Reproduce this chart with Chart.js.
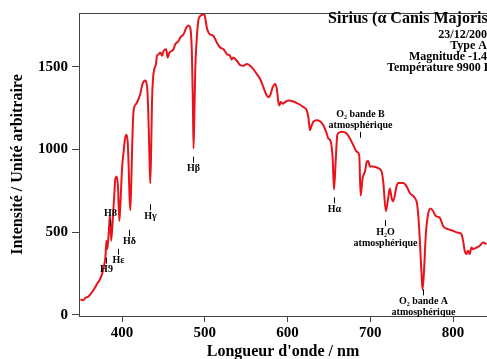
<!DOCTYPE html>
<html>
<head>
<meta charset="utf-8">
<script src="https://cdn.jsdelivr.net/npm/chart.js@4.4.0/dist/chart.umd.min.js"></script>
<style>
  html, body { margin: 0; padding: 0; background: #fff; }
  #wrap { width: 487px; height: 359px; }
</style>
</head>
<body>
<div id="wrap"><canvas id="spectrum" width="487" height="359"></canvas></div>
<script>
// spectrum (nm, arbitrary units)
const wavelength = [
    349.7, 352.5, 355.7, 359.7, 363.8, 367.8, 369.8, 372.6, 375.9, 377.8,
    379.9, 381.1, 382.3, 383.8, 385.4, 386.9, 388.7, 390.4, 392, 393.7,
    395.2, 396.7, 397.9, 400, 401.9, 403.4, 405.2, 406.8, 408, 409,
    410, 411.2, 412.4, 413.6, 414.8, 417.2, 420, 422.1, 423.3, 424.8,
    426.1, 428.1, 429.3, 430.5, 431.7, 432.9, 434.1, 435.3, 436.2, 437.4,
    439, 441, 442.2, 444.1, 446.2, 448.3, 450.2, 453.4, 455, 457.4,
    460.3, 462.2, 464.3, 468.3, 470.3, 474.3, 477.6, 480.3, 482.4, 484.4,
    485.6, 486.4, 487.5, 488.4, 490.5, 492.4, 494.4, 497.7, 499.3, 500.5,
    502.5, 504.5, 506.5, 510.5, 514.6, 518.6, 522.6, 526.7, 530.6, 532.4,
    534.6, 538.7, 542.7, 546.7, 550.8, 554.8, 558.7, 562.8, 566.8, 570.8,
    574.9, 576.8, 578.9, 582.1, 584.9, 587, 588.9, 590.1, 591.8, 594.2,
    597, 601, 607, 613, 619.1, 623.2, 625.1, 627.1, 629.2, 631.1,
    635.2, 639.2, 643.2, 647.3, 649.2, 651.9, 654.5, 656.1, 658.1, 660.1,
    662.5, 665.4, 671.4, 675.4, 679.4, 683.5, 686.6, 688.3, 690.7, 693.5,
    695.9, 697.5, 699.5, 703.5, 709.5, 713.6, 715.6, 718.8, 721.6, 723.6,
    725.7, 727.6, 731.7, 733.7, 739.7, 743.8, 747.8, 753.8, 756.6, 759,
    761.9, 763.1, 764.7, 767.1, 769.8, 772.7, 775.9, 779.1, 784, 787.9,
    794, 800, 806, 810.1, 812.1, 814.1, 816.2, 818.1, 820.1, 822.2,
    824.1, 828.2, 832.2, 836.2, 840.3
];
const intensity = [
    93, 87, 101, 111, 137, 167, 187, 207, 247, 287,
    347, 447, 397, 487, 603, 447, 567, 706, 824, 836,
    766, 567, 656, 884, 986, 1058, 1088, 1046, 896, 716,
    632, 806, 1046, 1214, 1256, 1276, 1306, 1336, 1366, 1396,
    1410, 1416, 1406, 1366, 1226, 1006, 794, 1028, 1286, 1426,
    1486, 1516, 1566, 1574, 1586, 1566, 1596, 1606, 1556, 1586,
    1596, 1606, 1636, 1656, 1676, 1696, 1736, 1749, 1736, 1586,
    1286, 1006, 1226, 1466, 1686, 1785, 1806, 1815, 1820, 1796,
    1736, 1706, 1695, 1686, 1646, 1616, 1606, 1576, 1566, 1544,
    1556, 1536, 1510, 1506, 1516, 1506, 1486, 1456, 1426, 1376,
    1326, 1316, 1326, 1376, 1396, 1366, 1286, 1266, 1286, 1276,
    1286, 1296, 1290, 1276, 1256, 1236, 1196, 1116, 1146, 1166,
    1176, 1170, 1146, 1096, 1066, 1052, 946, 757, 926, 1086,
    1102, 1106, 1096, 1066, 1026, 986, 966, 721, 826, 866,
    926, 930, 896, 896, 886, 866, 806, 626, 706, 763,
    706, 686, 776, 796, 796, 776, 736, 706, 667, 526,
    247, 151, 247, 487, 607, 643, 627, 597, 586, 537,
    517, 507, 496, 487, 447, 387, 367, 387, 367, 406,
    397, 406, 417, 436, 427
];

const xTicks = [400, 500, 600, 700, 800];
const yTicks = [0, 500, 1000, 1500];

const titleText = 'Sirius (α Canis Majoris)';
const infoLines = ['23/12/2003', 'Type A1', 'Magnitude -1.46', 'Température 9900 K'];

// line identifications: wavelength and intensity where the little tick starts
const lineLabels = [
    { text: ['H9'], wl: 381.1, level: 345, side: 'below' },
    { text: ['Hε'], wl: 394.7, level: 399, side: 'below' },
    { text: ['H8'], wl: 385.9, level: 537, side: 'above' },
    { text: ['Hδ'], wl: 408.8, level: 513, side: 'below' },
    { text: ['Hγ'], wl: 433.2, level: 668, side: 'below' },
    { text: ['Hβ'], wl: 486.2, level: 956, side: 'below' },
    { text: ['Hα'], wl: 656.5, level: 710, side: 'below' },
    { text: ['O₂ bande B', 'atmosphérique'], wl: 687.5, level: 1070, side: 'above' },
    { text: ['H₂O', 'atmosphérique'], wl: 718.2, level: 572, side: 'below' },
    { text: ['O₂ bande A', 'atmosphérique'], wl: 763.5, level: 153, side: 'below' }
];

const serif = "'Liberation Serif', 'Times New Roman', serif";
const axisColor = '#444';

const annotate = {
    id: 'annotate',
    afterDatasetsDraw(chart) {
        const { ctx, chartArea, scales } = chart;
        ctx.save();
        // top frame line
        ctx.strokeStyle = axisColor;
        ctx.lineWidth = 1;
        ctx.beginPath();
        ctx.moveTo(chartArea.left, chartArea.top + 0.5);
        ctx.lineTo(chartArea.right, chartArea.top + 0.5);
        ctx.stroke();

        ctx.fillStyle = '#000';
        ctx.strokeStyle = '#000';
        ctx.textAlign = 'center';
        ctx.textBaseline = 'middle';
        ctx.font = 'bold 10px ' + serif;
        lineLabels.forEach(l => {
            const x = Math.round(scales.x.getPixelForValue(l.wl)) + 0.5;
            const y = scales.y.getPixelForValue(l.level);
            const dir = l.side === 'below' ? 1 : -1;
            ctx.beginPath();
            ctx.moveTo(x, y);
            ctx.lineTo(x, y + dir * 6);
            ctx.stroke();
            const n = l.text.length;
            l.text.forEach((t, i) => {
                const k = dir > 0 ? i : (n - 1 - i);
                ctx.fillText(t, x, y + dir * (12 + k * 11));
            });
        });

        // star info, right aligned and running past the canvas edge
        ctx.textAlign = 'right';
        ctx.font = 'bold 16px ' + serif;
        ctx.fillText(titleText, 493, 19);
        ctx.font = 'bold 12px ' + serif;
        infoLines.forEach((t, i) => ctx.fillText(t, 493, 35 + i * 11));
        ctx.restore();
    }
};

new Chart(document.getElementById('spectrum'), {
    type: 'line',
    data: {
        datasets: [{
            data: wavelength.map((w, i) => ({ x: w, y: intensity[i] })),
            borderColor: '#e8141c',
            borderWidth: 2,
            pointRadius: 0,
            cubicInterpolationMode: 'monotone',
            fill: false
        }]
    },
    options: {
        responsive: false,
        animation: false,
        layout: { padding: { top: 10, right: 0, left: 0, bottom: 0 } },
        plugins: { legend: { display: false }, tooltip: { enabled: false } },
        scales: {
            x: {
                type: 'linear',
                min: 348,
                max: 841,
                afterBuildTicks: s => { s.ticks = xTicks.map(v => ({ value: v })); },
                afterFit: s => { s.height = 43; },
                grid: { drawOnChartArea: false, drawTicks: true, tickLength: 6, color: axisColor },
                border: { color: axisColor, width: 1 },
                ticks: {
                    color: '#000',
                    padding: 2,
                    font: { family: serif, size: 15, weight: 'bold' },
                    callback: v => String(v)
                },
                title: {
                    display: true,
                    text: "Longueur d'onde / nm",
                    color: '#000',
                    padding: { top: 0, bottom: 0 },
                    font: { family: serif, size: 16, weight: 'bold', lineHeight: 0.9 }
                }
            },
            y: {
                min: -8,
                max: 1825,
                afterBuildTicks: s => { s.ticks = yTicks.map(v => ({ value: v })); },
                afterFit: s => { s.width = 79; },
                grid: { drawOnChartArea: false, drawTicks: true, tickLength: 7, color: axisColor },
                border: { color: axisColor, width: 1 },
                ticks: {
                    color: '#000',
                    padding: 4,
                    font: { family: serif, size: 15, weight: 'bold' },
                    callback: v => String(v)
                },
                title: {
                    display: true,
                    text: 'Intensité / Unité arbitraire',
                    color: '#000',
                    padding: { top: 8, bottom: 0 },
                    font: { family: serif, size: 16, weight: 'bold' }
                }
            }
        }
    },
    plugins: [annotate]
});
</script>
</body>
</html>
